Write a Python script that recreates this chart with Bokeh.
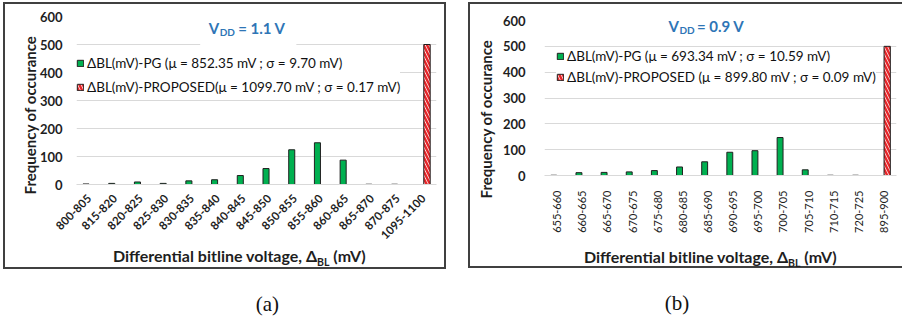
import math
from bokeh.plotting import figure
from bokeh.models import Range1d, Legend, LegendItem, Label, BoxAnnotation, Div, ColumnDataSource, FixedTicker, Title
from bokeh.layouts import row, column
from bokeh.transform import dodge
from bokeh.embed import file_html
from bokeh.resources import INLINE

# ---------------- data: panel (a), VDD = 1.1 V ----------------
bins_a = ["800-805", "815-820", "820-825", "825-830", "830-835", "835-840", "840-845",
          "845-850", "850-855", "855-860", "860-865", "865-870", "870-875", "1095-1100"]
pg_a = [2, 4, 9, 4, 13, 17, 32, 57, 124, 149, 87, 1, 1, 0]
prop_a = [0, 0, 0, 0, 0, 0, 0, 0, 0, 0, 0, 0, 0, 500]
pg_label_a = "ΔBL(mV)-PG (μ = 852.35 mV ; σ = 9.70 mV)"
prop_label_a = "ΔBL(mV)-PROPOSED(μ = 1099.70 mV ; σ = 0.17 mV)"
vdd_a = "= 1.1 V"
caption_a = "(a)"

# ---------------- data: panel (b), VDD = 0.9 V ----------------
bins_b = ["655-660", "660-665", "665-670", "670-675", "675-680", "680-685", "685-690",
          "690-695", "695-700", "700-705", "705-710", "710-715", "720-725", "895-900"]
pg_b = [1, 11, 12, 14, 19, 33, 53, 90, 96, 147, 22, 1, 1, 0]
prop_b = [0, 0, 0, 0, 0, 0, 0, 0, 0, 0, 0, 0, 0, 500]
pg_label_b = "ΔBL(mV)-PG (μ = 693.34 mV ; σ = 10.59 mV)"
prop_label_b = "ΔBL(mV)-PROPOSED (μ = 899.80 mV ; σ = 0.09 mV)"
vdd_b = "= 0.9 V"
caption_b = "(b)"

y_ticks = [0, 100, 200, 300, 400, 500, 600]
y_title = "Frequency of occurance"
x_title_html = "Differential bitline voltage, Δ<sub style='font-size:10.5px'>BL</sub> (mV)"

FONT = "Lato"
TXT = "#1e1e1e"
BLUE = "#2E75B6"
GREEN = "#00B050"
RED = "#E8262A"
BORDER = "2px solid #404040"


def panel(bins, pg, prop, lab_pg, lab_prop, vdd, g):
    p = figure(width=g["w"], height=g["h"], x_range=bins, y_range=Range1d(0, 600),
               output_backend="svg", toolbar_location=None,
               min_border_left=g["bl"], min_border_right=g["br"],
               min_border_top=g["bt"], min_border_bottom=g["bb"],
               background_fill_color="white", border_fill_color="white",
               outline_line_color=None, margin=0)
    p.xgrid.grid_line_color = None
    p.ygrid.grid_line_color = "#D9D9D9"
    p.ygrid.grid_line_width = 1
    p.yaxis.ticker = FixedTicker(ticks=y_ticks)
    p.yaxis.axis_line_color = None
    p.yaxis.major_tick_line_color = None
    p.yaxis.minor_tick_line_color = None
    p.yaxis.major_tick_out = 0
    p.yaxis.minor_tick_out = 0
    p.yaxis.major_label_standoff = g["ystand"]
    p.yaxis.major_label_text_font = FONT
    p.yaxis.major_label_text_font_style = "bold"
    p.yaxis.major_label_text_font_size = "13px"
    p.yaxis.major_label_text_color = TXT
    p.xaxis.axis_line_color = "#D9D9D9"
    p.xaxis.major_tick_line_color = None
    p.xaxis.minor_tick_line_color = None
    p.xaxis.major_label_orientation = g["xorient"]
    p.xaxis.major_label_standoff = g["xstand"]
    p.xaxis.major_label_text_font = FONT
    p.xaxis.major_label_text_font_style = g["xstyle"]
    p.xaxis.major_label_text_font_size = g["xsize"]
    p.xaxis.major_label_text_color = TXT

    src_pg = ColumnDataSource(dict(x=[b for b, v in zip(bins, pg) if v > 0],
                                   top=[v for v in pg if v > 0]))
    src_pr = ColumnDataSource(dict(x=[b for b, v in zip(bins, prop) if v > 0],
                                   top=[v for v in prop if v > 0]))
    r1 = p.vbar(x=dodge("x", -0.13, range=p.x_range), top="top", width=0.235, source=src_pg,
                fill_color=GREEN, line_color="#202020", line_width=1)
    r2 = p.vbar(x=dodge("x", 0.13, range=p.x_range), top="top", width=0.25, source=src_pr,
                fill_color="white", hatch_pattern="\\", hatch_color=RED, hatch_weight=2.5,
                hatch_scale=7, line_color="#202020", line_width=1)

    # white box behind the VDD title
    p.add_layout(BoxAnnotation(left=g["box"][0], right=g["box"][1], bottom=g["box"][2], top=g["box"][3],
                               fill_color="white", fill_alpha=1, line_color=None, level="annotation"))

    leg = Legend(items=[LegendItem(label=lab_pg, renderers=[r1]),
                        LegendItem(label=lab_prop, renderers=[r2])],
                 location=g["legloc"], padding=2, margin=0, spacing=g["legsp"],
                 label_height=g["leglh"], glyph_width=8, glyph_height=8, label_standoff=3,
                 background_fill_color="white", background_fill_alpha=1, border_line_color=None,
                 label_text_font=FONT, label_text_font_size="13.5px", label_text_color="#111111")
    p.add_layout(leg, "center")

    # title  V_DD = x V
    tx, ty = g["title"]
    p.add_layout(Label(x=tx, y=ty, x_units="screen", y_units="screen", text="V", text_align="right",
                       text_baseline="middle", text_font=FONT, text_font_style="bold",
                       text_font_size="15px", text_color=BLUE))
    p.add_layout(Label(x=tx + 0.5, y=ty - 4, x_units="screen", y_units="screen", text="DD", text_align="left",
                       text_baseline="middle", text_font=FONT, text_font_style="bold",
                       text_font_size="10px", text_color=BLUE))
    p.add_layout(Label(x=tx + g["teq"], y=ty, x_units="screen", y_units="screen", text=vdd, text_align="left",
                       text_baseline="middle", text_font=FONT, text_font_style="bold",
                       text_font_size="15px", text_color=BLUE))

    # y axis title (offset along the axis like the original)
    p.add_layout(Title(text=y_title, align="left", offset=g["yoff"], standoff=g["ystd"],
                       text_font=FONT, text_font_style="bold", text_font_size="15px",
                       text_color=TXT), "left")
    return p


geo_a = dict(w=439, h=241, bl=71, br=8, bt=12, bb=60,
             ystand=14, xorient=math.pi / 4, xstand=6, xstyle="bold", xsize="11.5px",
             box=(4.81, 8.55, 490, 620), legloc=(0, 87), legsp=4, leglh=20,
             title=(142.7, 156.7), teq=19, yoff=-10, ystd=-4)
geo_b = dict(w=432, h=231, bl=70, br=6, bt=16, bb=54,
             ystand=19, xorient=math.pi / 2, xstand=9, xstyle="normal", xsize="11px",
             box=(4.35, 8.09, 512, 620), legloc=(12, 89), legsp=3, leglh=18,
             title=(134.4, 150.0), teq=18, yoff=-23, ystd=9)

pa = panel(bins_a, pg_a, prop_a, pg_label_a, prop_label_a, vdd_a, geo_a)
pb = panel(bins_b, pg_b, prop_b, pg_label_b, prop_label_b, vdd_b, geo_b)


def xtitle(width, height, pad_left, pad_top):
    return Div(text=("<div style=\"white-space:nowrap;padding-left:%gpx;padding-top:%gpx;"
                     "font-family:Lato;font-weight:bold;font-size:16px;color:%s;line-height:18px\">%s</div>")
               % (pad_left, pad_top, TXT, x_title_html),
               width=width, height=height, margin=0)


def caption(width, text, pad_left):
    return Div(text=("<div style=\"white-space:nowrap;padding-left:%gpx;padding-top:23px;"
                     "font-family:'Liberation Serif';font-size:21px;color:#111;line-height:24px\">%s</div>")
               % (pad_left, text),
               width=width, height=47, margin=0)


box_a = column(pa, xtitle(439, 22, 108, 2), spacing=0, margin=0,
               styles={"border": BORDER})
box_b = column(pb, xtitle(432, 31, 114, 13.3), spacing=0, margin=0,
               styles={"border-left": BORDER, "border-top": BORDER, "border-bottom": BORDER})

layout = row(column(box_a, caption(443, caption_a, 252.7), spacing=0, margin=0),
             column(box_b, caption(434, caption_b, 196.7), spacing=0, margin=0),
             spacing=22, margin=(2, 0, 0, 3))

open("out.html", "w").write(file_html(layout, INLINE))
